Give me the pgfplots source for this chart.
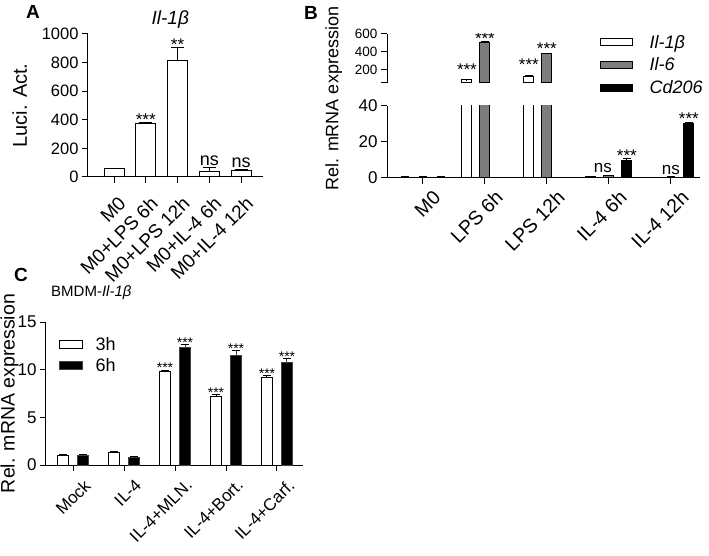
\documentclass[border=0pt]{standalone}
\usepackage{fontspec}
\setmainfont{Liberation Sans}
\usepackage{pgfplots}
\pgfplotsset{compat=1.18}
\usepackage{pgfplotstable}
\definecolor{midgray}{RGB}{125,125,125}

\pgfplotstableread{
x v e
0 60 0
1 372 8
2 812 92
3 40 23
4 45 7
}\dataA

\pgfplotstableread{
x il1b il1be il6 il6e cd cde
0 0.5 0.1 0.5 0.1 0.5 0.1
1 90 3 500 20 0 0
2 130 5 380 8 0 0
3 0.7 0.2 1.2 0.4 9.5 1.2
4 0.4 0.1 0.5 0.1 30 1
}\dataB

\pgfplotstableread{
x il1b il1be il6 il6e
1 90 3 500 20
2 130 5 380 8
}\dataBtop

\pgfplotstableread{
x a ae b be
0 1.0 0.05 0.95 0.1
1 1.35 0.05 0.8 0.1
2 9.8 0.15 12.3 0.3
3 7.2 0.15 11.5 0.5
4 9.2 0.2 10.7 0.45
}\dataC

\newcommand{\fs}[1]{\fontsize{#1}{#1}\selectfont}

\tikzset{
  stars/.style={anchor=south, font=\fs{17}, inner sep=1pt, yshift=-4pt},
  nslab/.style={anchor=south, font=\fs{18}, inner sep=1pt, yshift=1pt},
}

\pgfplotsset{
  base/.style={scale only axis, anchor=south west, axis lines*=left,
    tick align=outside, major tick length=6pt,
    every tick/.style={black, line width=1pt},
    axis line style={line width=1pt},
    /pgf/number format/assume math mode=true,
    /pgf/number format/1000 sep={},
    ytick pos=left, xtick pos=bottom, ybar,
    x tick label style={rotate=45, anchor=north east, inner sep=2pt},
    error bars/error bar style={line width=1pt},
    error bars/error mark options={rotate=90, mark size=4pt, line width=1pt},
  },
  barw/.style={fill=white, draw=black, line width=1pt},
  barg/.style={fill=midgray, draw=black, line width=1pt},
  bark/.style={fill=black, draw=black, line width=1pt},
  sq/.style={legend image code/.code={\draw[##1, line width=1pt] (0pt,-3.5pt) rectangle (32pt,3.5pt); \path[draw=none, fill=none] (0pt,0pt) -- (47pt,0pt);}},
  sqc/.style={legend image code/.code={\draw[##1, line width=1pt] (0pt,-4pt) rectangle (23pt,4pt); \path[draw=none, fill=none] (0pt,0pt) -- (34pt,0pt);}},
}

\begin{document}
\begin{tikzpicture}[x=1pt,y=1pt]
\useasboundingbox (0,0) rectangle (709,555);

% Panel A
\begin{axis}[base, at={(88pt,378pt)}, width=175pt, height=143pt,
  ymin=0, ymax=1000, ytick={0,200,...,1000}, xmin=-0.82, xmax=4.69,
  xtick={0,...,4}, xticklabels={M0, M0+LPS 6h, M0+LPS 12h, M0+IL-4 6h, M0+IL-4 12h},
  bar width=20pt,
  error bars/error mark options={rotate=90, mark size=6.5pt, line width=1pt},
  y tick label style={font=\fs{16.5}}, x tick label style={font=\fs{19}, xshift=-4pt, yshift=-9pt},
  ylabel={Luci. Act.},
  every axis y label/.style={at={(axis description cs:-0.39,0.5)}, rotate=90, anchor=center, font=\fs{20}},
  title={\itshape Il-1β},
  every axis title/.style={at={(axis description cs:0.47,1.1)}, anchor=center, font=\fs{19}},
]
\addplot[barw, bar shift=0pt, error bars/.cd, y dir=plus, y explicit] table[x=x, y=v, y error=e] {\dataA};
\node[stars] at (axis cs:1,380) {***};
\node[stars] at (axis cs:2,904) {**};
\node[nslab] at (axis cs:3,63) {ns};
\node[nslab] at (axis cs:4,52) {ns};
\end{axis}

% Panel B bottom
\begin{axis}[base, at={(387pt,377pt)}, width=313pt, height=72pt,
  ymin=0, ymax=40, ytick={0,20,40}, xmin=-0.58, xmax=4.47,
  xtick={0,...,4}, xticklabels={M0, LPS 6h, LPS 12h, IL-4 6h, IL-4 12h},
  bar width=10pt,
  y tick label style={font=\fs{17}}, x tick label style={font=\fs{19.5}, xshift=5pt, yshift=-8pt},
  ylabel={Rel. mRNA expression},
  every axis y label/.style={at={(axis description cs:-0.17,1.10)}, rotate=90, anchor=center, font=\fs{18}},
]
\addplot[barw, bar shift=-18pt, error bars/.cd, y dir=plus, y explicit] table[x=x, y=il1b, y error=il1be] {\dataB};
\addplot[barg, bar shift=0pt, error bars/.cd, y dir=plus, y explicit] table[x=x, y=il6, y error=il6e] {\dataB};
\addplot[bark, bar shift=18pt, error bars/.cd, y dir=plus, y explicit] table[x=x, y=cd, y error=cde] {\dataB};
\node[nslab, font=\fs{17}, xshift=-6pt] at (axis cs:3,1.6) {ns};
\node[stars, xshift=18pt] at (axis cs:3,10.7) {***};
\node[nslab, font=\fs{17}] at (axis cs:4,0.6) {ns};
\node[stars, xshift=18pt] at (axis cs:4,31) {***};
\end{axis}

% Panel B top
\begin{axis}[base, at={(387pt,472pt)}, width=313pt, height=49pt,
  axis x line=none, axis y line*=left,
  ymin=55, ymax=600, ytick={55,200,400,600}, yticklabels={,200,400,600},
  xmin=-0.58, xmax=4.47, bar width=10pt,
  y tick label style={font=\fs{13.5}},
  legend style={draw=none, fill=none, at={(0.68,1.02)}, anchor=north west,
    font=\fs{18}\itshape, row sep=4pt, inner sep=0pt,
    nodes={inner sep=2pt, anchor=west}},
  legend cell align=left,
]
\addplot[barw, sq, bar shift=-18pt, error bars/.cd, y dir=plus, y explicit] table[x=x, y=il1b, y error=il1be] {\dataBtop};
\addlegendentry{Il-1β}
\addplot[barg, sq, bar shift=0pt, error bars/.cd, y dir=plus, y explicit] table[x=x, y=il6, y error=il6e] {\dataBtop};
\addlegendentry{Il-6}
\addlegendimage{bark, sq}
\addlegendentry{Cd206}
\node[stars, xshift=-18pt] at (axis cs:1,175) {***};
\node[stars] at (axis cs:1,515) {***};
\node[stars, xshift=-18pt] at (axis cs:2,220) {***};
\node[stars] at (axis cs:2,405) {***};
\end{axis}

% Panel C
\begin{axis}[base, at={(46pt,90pt)}, width=257pt, height=143pt,
  ymin=0, ymax=15, ytick={0,5,10,15}, xmin=-0.53, xmax=4.51,
  xtick={0,...,4}, xticklabels={Mock, IL-4, IL-4+MLN., IL-4+Bort., IL-4+Carf.},
  bar width=11pt,
  y tick label style={font=\fs{17}}, x tick label style={font=\fs{17}, xshift=4pt, yshift=-10pt},
  ylabel={Rel. mRNA expression},
  every axis y label/.style={at={(axis description cs:-0.142,0.5)}, rotate=90, anchor=center, font=\fs{19.5}},
  legend style={draw=none, fill=none, at={(0.05,0.91)}, anchor=north west,
    font=\fs{18}, row sep=3pt, inner sep=0pt,
    nodes={inner sep=2pt, anchor=west}},
  legend cell align=left,
]
\addplot[barw, sqc, bar shift=-10pt, error bars/.cd, y dir=plus, y explicit] table[x=x, y=a, y error=ae] {\dataC};
\addlegendentry{3h}
\addplot[bark, draw=black!75, sqc, bar shift=10pt, error bars/.cd, y dir=plus, y explicit] table[x=x, y=b, y error=be] {\dataC};
\addlegendentry{6h}
\node[stars, font=\fs{14}, xshift=-10pt] at (axis cs:2,9.95) {***};
\node[stars, font=\fs{14}, xshift=10pt] at (axis cs:2,12.6) {***};
\node[stars, font=\fs{14}, xshift=-10pt] at (axis cs:3,7.35) {***};
\node[stars, font=\fs{14}, xshift=10pt] at (axis cs:3,12.0) {***};
\node[stars, font=\fs{14}, xshift=-10pt] at (axis cs:4,9.4) {***};
\node[stars, font=\fs{14}, xshift=10pt] at (axis cs:4,11.15) {***};
\end{axis}

\node[font=\bfseries\fs{19}] at (33,543) {A};
\node[font=\bfseries\fs{19}] at (311,542) {B};
\node[font=\bfseries\fs{19}] at (21,280) {C};
\node[anchor=west, font=\fs{15}, inner sep=0pt] at (51,262) {BMDM-\textit{Il-1β}};
\end{tikzpicture}
\end{document}
